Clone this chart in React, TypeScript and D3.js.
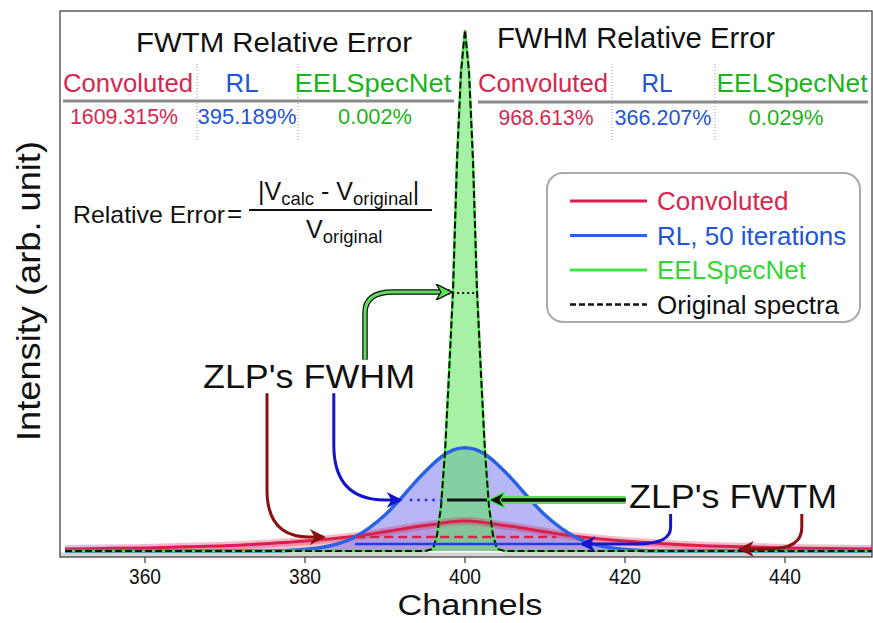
import * as d3 from 'd3'

// channel grid (finer around the zero-loss peak)
const channels = [350, 355, 360, 365, 370, 375, 380, 383, 386, 388, 390, 392, 394, 395, 396, 396.5, 397, 397.5, 398, 398.5, 399, 399.5, 400, 400.5, 401, 401.5, 402, 402.5, 403, 403.5, 404, 405, 406, 408, 410, 412, 414, 417, 420, 425, 430, 435, 440, 445, 451]

const convoluted = [0.004, 0.005, 0.006, 0.008, 0.01, 0.014, 0.019, 0.023, 0.028, 0.032, 0.037, 0.042, 0.047, 0.049, 0.051, 0.052, 0.0535, 0.0545, 0.0555, 0.0565, 0.057, 0.0575, 0.0576, 0.0575, 0.057, 0.0565, 0.0555, 0.0545, 0.0535, 0.0525, 0.051, 0.049, 0.047, 0.042, 0.037, 0.032, 0.028, 0.023, 0.019, 0.014, 0.01, 0.008, 0.006, 0.005, 0.004]

const rl50 = [0, 0, 0, 0, 0, 0, 0.003, 0.0095, 0.025, 0.044, 0.069, 0.101, 0.136, 0.152, 0.167, 0.174, 0.18, 0.186, 0.19, 0.1935, 0.196, 0.1975, 0.198, 0.1975, 0.196, 0.1935, 0.19, 0.186, 0.18, 0.174, 0.167, 0.152, 0.136, 0.101, 0.069, 0.044, 0.025, 0.0095, 0.003, 0, 0, 0, 0, 0, 0]

const eelSpecNet = [0, 0, 0, 0, 0, 0, 0, 0, 0, 0, 0, 0, 0, 0, 0.004, 0.03, 0.085, 0.19, 0.34, 0.5, 0.75, 0.92, 1.0, 0.92, 0.75, 0.5, 0.34, 0.19, 0.085, 0.03, 0.004, 0, 0, 0, 0, 0, 0, 0, 0, 0, 0, 0, 0, 0, 0]

const originalSpectra = [0, 0, 0, 0, 0, 0, 0, 0, 0, 0, 0, 0, 0, 0, 0.004, 0.03, 0.085, 0.19, 0.34, 0.5, 0.75, 0.92, 1.0, 0.92, 0.75, 0.5, 0.34, 0.19, 0.085, 0.03, 0.004, 0, 0, 0, 0, 0, 0, 0, 0, 0, 0, 0, 0, 0, 0]

const xTicks = [360, 380, 400, 420, 440]

const methods = ['Convoluted', 'RL', 'EELSpecNet']
const fwtmErrors = ['1609.315%', '395.189%', '0.002%']
const fwhmErrors = ['968.613%', '366.207%', '0.029%']
const legendLabels = ['Convoluted', 'RL, 50 iterations', 'EELSpecNet', 'Original spectra']

// width markers: [from channel, to channel, level]
const greenFwhm = [398.4, 401.5, 0.495]
const blueFwhm = [393.1, 397.5, 0.098]
const greenFwtm = [397.75, 402.75, 0.098]
const redFwhm = [386.4, 411.4, 0.027]
const blueFwtm = [386.25, 414.4, 0.0134]

// annotation arrows: start, corner start, control, corner end, tip  (channel, level)
const arrowToGreenFwhm = [[387.5, 0.367], [387.5, 0.457], [387.5, 0.497], [391, 0.497], [398.1, 0.497]]
const arrowToBlueFwhm = [[383.6, 0.303], [383.6, 0.2035], [383.6, 0.098], [390, 0.098], [391.9, 0.098]]
const arrowToRedFwhm = [[375.25, 0.303], [375.25, 0.117], [375.25, 0.027], [380.5, 0.027], [382.3, 0.027]]
const arrowToBlueFwtm = [[425.7, 0.071], [425.7, 0.045], [425.7, 0.0134], [421.5, 0.0134], [414.6, 0.0134]]
const arrowToRedFwtm = [[442.1, 0.071], [442.1, 0.045], [442.1, 0.004], [438, 0.004], [434.4, 0.004]]
const arrowToGreenFwtm = [[420.1, 0.098], [403.3, 0.098]]

const W = 873, H = 623
const left = 60, right = 872, top = 11, bottom = 557

const RED = '#d8204a', BLUE = '#2a62e6', GREEN = '#3ee83e'
const FONT = '"Liberation Sans", Arial, sans-serif'

function App() {
  const x = d3.scaleLinear().domain([349.375, 450.875]).range([left, right])
  const y = d3.scaleLinear().domain([-0.0115, 1.0365]).range([bottom, top])

  const area = (vals: number[], curve: any) =>
    d3.area<number>().x((d, i) => x(channels[i])).y0(y(0)).y1(d => y(d)).curve(curve)(vals) || ''
  const line = (vals: number[], curve: any) =>
    d3.line<number>().x((d, i) => x(channels[i])).y(d => y(d)).curve(curve)(vals) || ''

  const bent = (pts: number[][]) => {
    const p = d3.path()
    p.moveTo(x(pts[0][0]), y(pts[0][1]))
    p.lineTo(x(pts[1][0]), y(pts[1][1]))
    p.quadraticCurveTo(x(pts[2][0]), y(pts[2][1]), x(pts[3][0]), y(pts[3][1]))
    p.lineTo(x(pts[4][0]), y(pts[4][1]))
    return p.toString()
  }
  const seg = (m: number[]) => ({ x1: x(m[0]), x2: x(m[1]), y1: y(m[2]), y2: y(m[2]) })

  const tableCols1 = [128, 242, 373]
  const tableCols2 = [543, 657, 792]
  const valCols1 = [124, 247, 375]
  const valCols2 = [546, 663, 786]
  const headW1 = [130, 33, 157]
  const headW2 = [130, 31, 151]
  const valW1 = [108, 99, 74]
  const valW2 = [95, 97, 75]
  const colColors = ['#d7264f', '#2155d6', '#1db31d']
  const legendColors = [RED, BLUE, GREEN, '#111']
  const legendText = ['#d7264f', '#2155d6', '#33d633', '#111']

  const marker = (id: string, fill: string, stroke = 'none') => (
    <marker id={id} viewBox="0 0 10 10" refX="8.5" refY="5" markerWidth="18" markerHeight="16"
      markerUnits="userSpaceOnUse" orient="auto">
      <path d="M0,0 L10,5 L0,10 L3,5 z" fill={fill} stroke={stroke} strokeWidth={0.8} />
    </marker>
  )

  return (
    <svg width={W} height={H} style={{ position: 'absolute', left: 0, top: 0, background: '#fff' }} fontFamily={FONT}>
      <defs>
        <clipPath id="plot"><rect x={left} y={top} width={right - left} height={bottom - top} /></clipPath>
        {marker('ah-blue', '#1414cc')}
        {marker('ah-red', '#8a1111')}
        {marker('ah-green', '#5ee05e', '#111')}
        {marker('ah-black', '#111', '#3ee83e')}
      </defs>

      <g clipPath="url(#plot)">
        <rect x={left} y={552.5} width={right - left} height={4.5} fill="#d4d4d4" />
        <path d={area(convoluted, d3.curveMonotoneX)} fill="#e8305a" fillOpacity={0.3} />
        <path d={area(rl50, d3.curveMonotoneX)} fill="#7b7bf0" fillOpacity={0.55} />
        <path d={area(eelSpecNet, d3.curveLinear)} fill="#5ce65c" fillOpacity={0.55} />

        <path d={line(convoluted, d3.curveMonotoneX)} fill="none" stroke={RED} strokeOpacity={0.3} strokeWidth={8} />
        <path d={line(convoluted, d3.curveMonotoneX)} fill="none" stroke={RED} strokeWidth={3} />
        <path d={line(rl50, d3.curveMonotoneX)} fill="none" stroke={BLUE} strokeWidth={3.5} />
        <path d={line(eelSpecNet, d3.curveLinear)} fill="none" stroke={GREEN} strokeWidth={2.5} />
        <path d={line(originalSpectra, d3.curveLinear)} fill="none" stroke="#111" strokeWidth={2} strokeDasharray="7,3" />

        {/* width markers */}
        <line {...seg(greenFwhm)} stroke="#111" strokeWidth={2} strokeDasharray="2,3" />
        <line {...seg(blueFwhm)} stroke="#2a2ae6" strokeWidth={2.5} strokeDasharray="2.5,5" />
        <line {...seg(greenFwtm)} stroke="#111" strokeWidth={3} />
        <line {...seg(redFwhm)} stroke={RED} strokeWidth={2.5} strokeDasharray="9,5" />
        <line {...seg(blueFwtm)} stroke="#1f3fe0" strokeWidth={2.5} />
      </g>

      {/* frame and x axis */}
      <rect x={left} y={top} width={right - left} height={bottom - top} fill="none" stroke="#444" strokeWidth={1.3} />
      {xTicks.map(t => (
        <g key={t}>
          <line x1={x(t)} x2={x(t)} y1={bottom} y2={bottom + 6} stroke="#444" strokeWidth={1.3} />
          <text x={x(t)} y={584} textAnchor="middle" fontSize={22} textLength={32} lengthAdjust="spacingAndGlyphs" fill="#111">{t}</text>
        </g>
      ))}
      <text x={470} y={615} textAnchor="middle" fontSize={30} textLength={145} lengthAdjust="spacingAndGlyphs" fill="#111">Channels</text>
      <text transform="translate(40,291) rotate(-90)" textAnchor="middle" fontSize={34} textLength={300}
        lengthAdjust="spacingAndGlyphs" fill="#111">Intensity (arb. unit)</text>

      {/* arrows */}
      <path d={bent(arrowToGreenFwhm)} fill="none" stroke="#111" strokeWidth={5.5} />
      <path d={bent(arrowToGreenFwhm)} fill="none" stroke="#5ee05e" strokeWidth={3} markerEnd="url(#ah-green)" />
      <path d={bent(arrowToBlueFwhm)} fill="none" stroke="#1414cc" strokeWidth={3} markerEnd="url(#ah-blue)" />
      <path d={bent(arrowToRedFwhm)} fill="none" stroke="#8a1111" strokeWidth={3} markerEnd="url(#ah-red)" />
      <path d={bent(arrowToBlueFwtm)} fill="none" stroke="#1414cc" strokeWidth={3} markerEnd="url(#ah-blue)" />
      <path d={bent(arrowToRedFwtm)} fill="none" stroke="#8a1111" strokeWidth={3} markerEnd="url(#ah-red)" />
      <line x1={x(arrowToGreenFwtm[0][0])} x2={x(arrowToGreenFwtm[1][0]) + 8} y1={y(arrowToGreenFwtm[0][1])} y2={y(arrowToGreenFwtm[1][1])}
        stroke="#5ee05e" strokeWidth={8} />
      <line x1={x(arrowToGreenFwtm[0][0])} x2={x(arrowToGreenFwtm[1][0])} y1={y(arrowToGreenFwtm[0][1])} y2={y(arrowToGreenFwtm[1][1])}
        stroke="#111" strokeWidth={3.5} markerEnd="url(#ah-black)" />

      <text x={203} y={388} fontSize={34} textLength={212} lengthAdjust="spacingAndGlyphs" fill="#111">ZLP's FWHM</text>
      <text x={629} y={508} fontSize={34} textLength={208} lengthAdjust="spacingAndGlyphs" fill="#111">ZLP's FWTM</text>

      {/* error tables */}
      <text x={274} y={52} textAnchor="middle" fontSize={28.5} textLength={276} lengthAdjust="spacingAndGlyphs" fill="#111">FWTM Relative Error</text>
      <text x={636} y={48} textAnchor="middle" fontSize={29} textLength={278} lengthAdjust="spacingAndGlyphs" fill="#111">FWHM Relative Error</text>
      <line x1={63} x2={454} y1={101} y2={101} stroke="#8a8a8a" strokeWidth={3} />
      <line x1={478} x2={868} y1={102} y2={102} stroke="#8a8a8a" strokeWidth={3} />
      {[197, 298, 612, 715].map(sx => (
        <line key={sx} x1={sx} x2={sx} y1={64} y2={140} stroke="#9a9a9a" strokeWidth={1} strokeDasharray="1,2" />
      ))}
      {methods.map((m, i) => (
        <g key={m}>
          <text x={tableCols1[i]} y={92} textAnchor="middle" fontSize={26} textLength={headW1[i]} lengthAdjust="spacingAndGlyphs" fill={colColors[i]}>{m}</text>
          <text x={tableCols2[i]} y={92} textAnchor="middle" fontSize={26} textLength={headW2[i]} lengthAdjust="spacingAndGlyphs" fill={colColors[i]}>{m}</text>
          <text x={valCols1[i]} y={124} textAnchor="middle" fontSize={21.5} textLength={valW1[i]} lengthAdjust="spacingAndGlyphs" fill={colColors[i]}>{fwtmErrors[i]}</text>
          <text x={valCols2[i]} y={125} textAnchor="middle" fontSize={21.5} textLength={valW2[i]} lengthAdjust="spacingAndGlyphs" fill={colColors[i]}>{fwhmErrors[i]}</text>
        </g>
      ))}

      {/* formula */}
      <text x={73} y={223} fontSize={24} textLength={152} lengthAdjust="spacingAndGlyphs" fill="#111">Relative Error</text>
      <text x={227} y={222} fontSize={26} fill="#111">=</text>
      <line x1={249} x2={432} y1={210} y2={210} stroke="#111" strokeWidth={2} />
      <text x={258} y={200} fontSize={25} fill="#111">
        <tspan>|V</tspan>
        <tspan fontSize={18.5} dy={5}>calc</tspan>
        <tspan dy={-5}> - V</tspan>
        <tspan fontSize={18.5} dy={5}>original</tspan>
        <tspan dy={-5}>|</tspan>
      </text>
      <text x={306} y={238} fontSize={25} fill="#111">
        <tspan>V</tspan>
        <tspan fontSize={18.5} dy={5}>original</tspan>
      </text>

      {/* legend */}
      <rect x={547} y={173} width={313} height={149} rx={16} fill="#fff" stroke="#aaa" strokeWidth={2} />
      {legendLabels.map((l, i) => {
        const ly = 201 + i * 34.5
        return (
          <g key={l}>
            <line x1={570} x2={647} y1={ly} y2={ly} stroke={legendColors[i]} strokeWidth={i === 3 ? 2.5 : 3}
              strokeDasharray={i === 3 ? '6,3' : undefined} />
            <text x={657} y={ly + 9} fontSize={26} fill={legendText[i]}>{l}</text>
          </g>
        )
      })}
    </svg>
  )
}

export default App
